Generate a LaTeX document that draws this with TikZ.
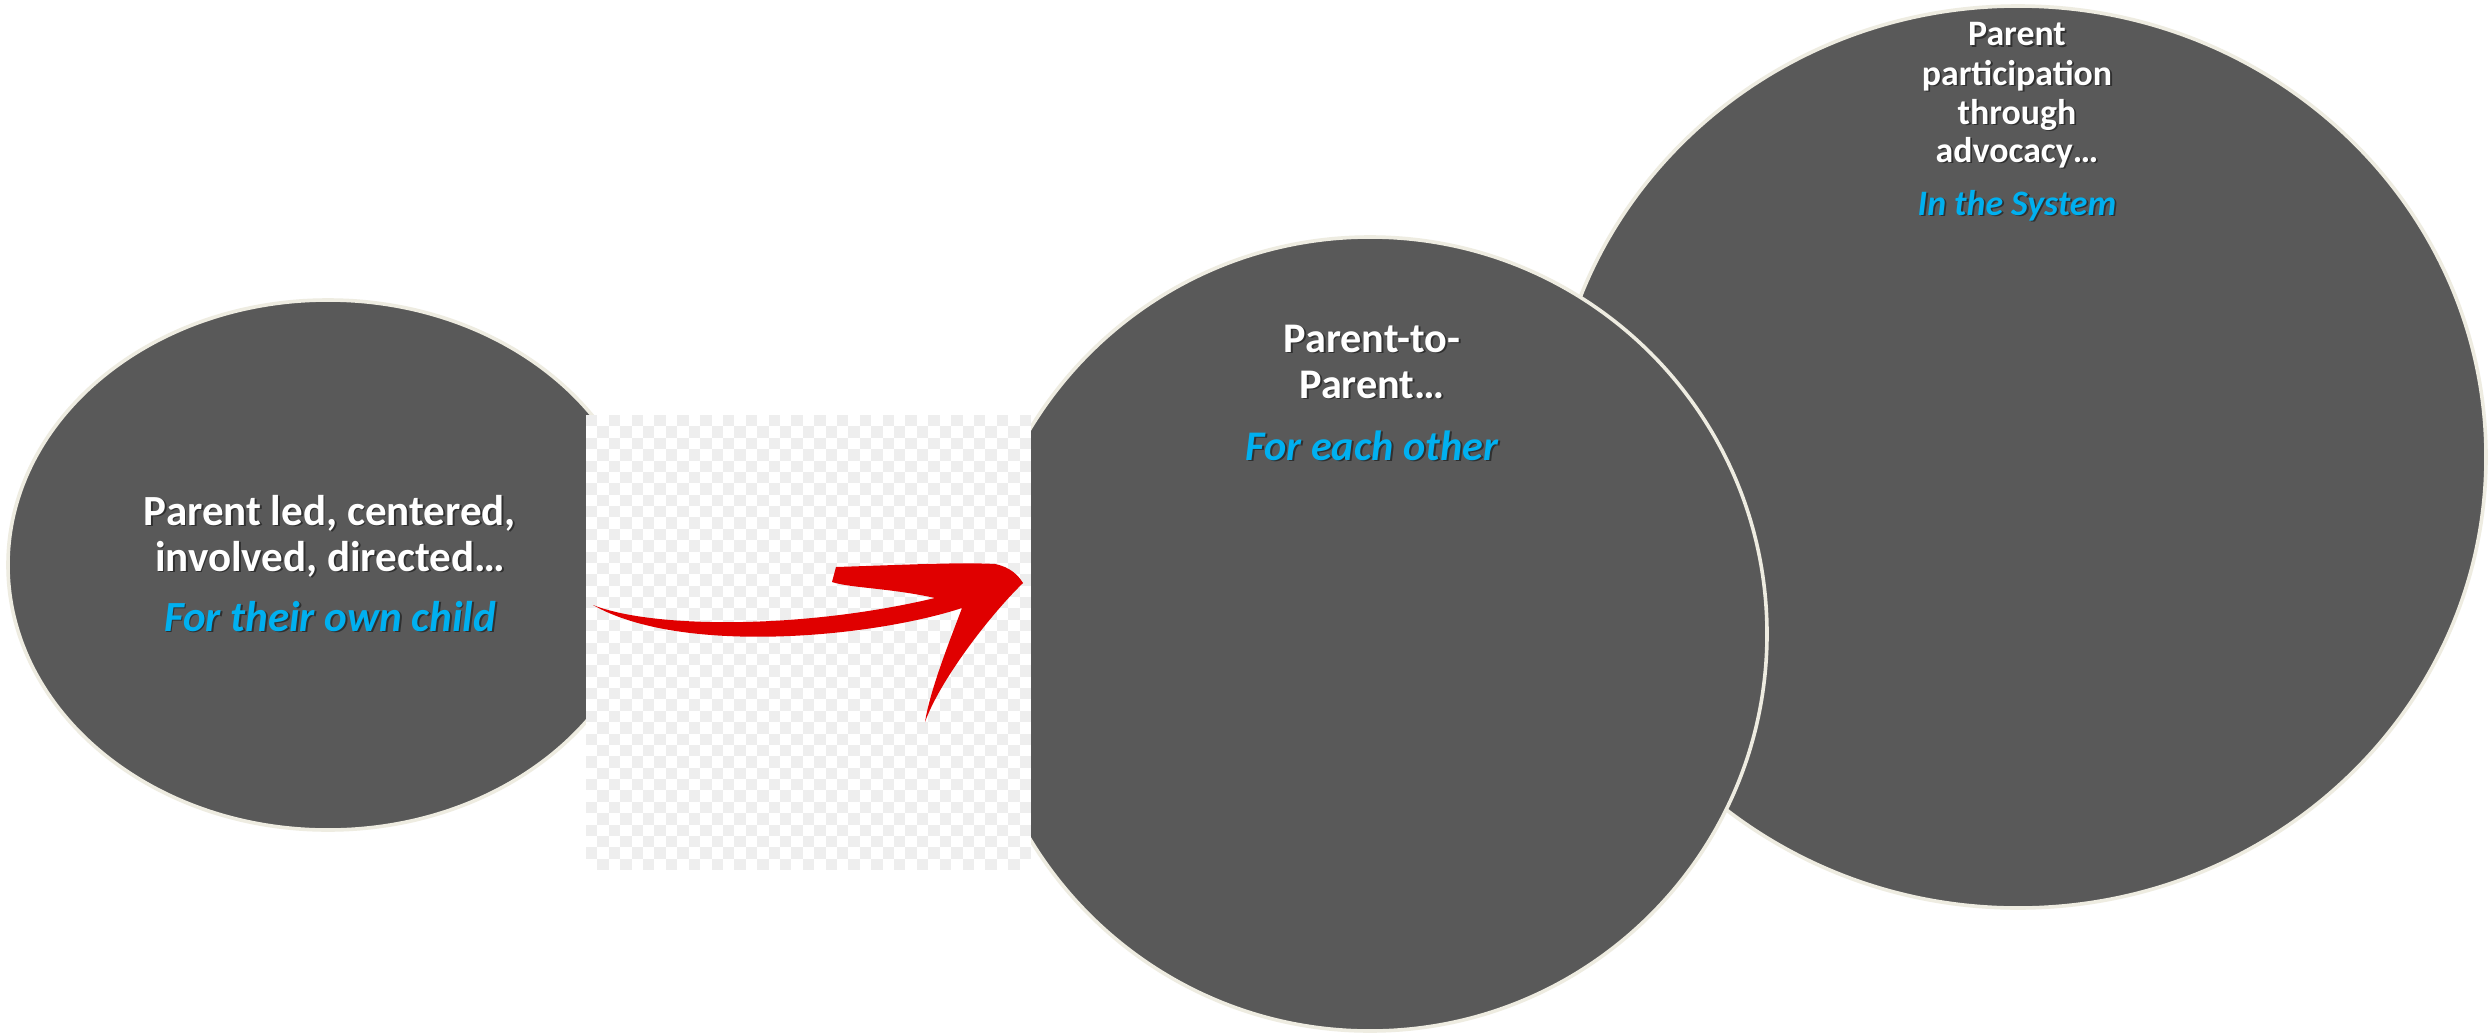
\documentclass[tikz,border=0pt]{standalone}
\usepackage{fontspec}
\setmainfont{Carlito}
\newcommand{\shtext}[4]{%
  \node[#2, text=black, opacity=0.45, xshift=0.9pt, yshift=-0.9pt] (#1-sh) at (#3) {#4};
  \node[#2] (#1) at (#3) {#4};}
\begin{document}
\begin{tikzpicture}[x=0.5pt,y=-0.5pt]
\definecolor{disc}{HTML}{595959}
\definecolor{rim}{HTML}{EEECE1}
\definecolor{skyblue}{HTML}{00B0F0}
\definecolor{arrowred}{HTML}{E00000}
\definecolor{checkgray}{HTML}{EEEEEE}
\tikzset{
  disk/.style={fill=disc, draw=rim, line width=1.8pt},
  wtxtL/.style={anchor=base, inner sep=0pt, text=white, font=\fontsize{21.5}{25}\selectfont\bfseries},
  btxtL/.style={anchor=base, inner sep=0pt, text=skyblue, font=\fontsize{21.5}{25}\selectfont\bfseries\itshape},
  wtxtM/.style={anchor=base, inner sep=0pt, text=white, font=\fontsize{21.1}{25}\selectfont\bfseries},
  btxtM/.style={anchor=base, inner sep=0pt, text=skyblue, font=\fontsize{21.1}{25}\selectfont\bfseries\itshape},
  wtxtR/.style={anchor=base, inner sep=0pt, text=white, font=\fontsize{17.9}{21}\selectfont\bfseries},
  btxtR/.style={anchor=base, inner sep=0pt, text=skyblue, font=\fontsize{17.9}{21}\selectfont\bfseries\itshape},
}
\useasboundingbox (0,0) rectangle (2489,1033);
\fill[white] (0,0) rectangle (2489,1033);

% circles
\draw[disk] (2018,457) ellipse [x radius=468, y radius=451];
\draw[disk] (1370,634) circle [radius=397];
\draw[disk] (328,565) ellipse [x radius=320, y radius=265];

% checkerboard
\fill[white] (586,415) rectangle (1031,870);
\foreach \j in {0,...,39}{
  \pgfmathtruncatemacro{\a}{mod(\j,2)}
  \pgfmathtruncatemacro{\b}{\a+2}
  \foreach \i in {\a,\b,...,38}{
    \fill[checkgray] ({586+\i*11.41026},{415+\j*11.375}) rectangle ++(11.41026,11.375);
  }
}

% brush arrow
\fill[arrowred] (593,605) .. controls (650,628) and (800,630) .. (935,598)
  .. controls (890,588) and (850,588) .. (832,582)
  -- (836,567)
  .. controls (900,565) and (960,562) .. (995,564)
  .. controls (1010,567) and (1018,575) .. (1023,583)
  .. controls (990,615) and (940,680) .. (925,722)
  .. controls (930,690) and (950,640) .. (962,608)
  .. controls (870,638) and (680,655) .. (593,605) -- cycle;

% texts
\shtext{l1}{wtxtL}{330,525}{Parent led, centered,}
\shtext{l2}{wtxtL}{330,571}{involved, directed…}
\shtext{l3}{btxtL}{330,631}{For their own child}

\shtext{m1}{wtxtM}{1372,352}{Parent-to-}
\shtext{m2}{wtxtM}{1372,398}{Parent…}
\shtext{m3}{btxtM}{1372,460}{For each other}

\shtext{r1}{wtxtR}{2017,46}{Parent}
\shtext{r2}{wtxtR}{2017,85}{participation}
\shtext{r3}{wtxtR}{2017,124}{through}
\shtext{r4}{wtxtR}{2017,162}{advocacy…}
\shtext{r5}{btxtR}{2017,215}{In the System}
\end{tikzpicture}
\end{document}
